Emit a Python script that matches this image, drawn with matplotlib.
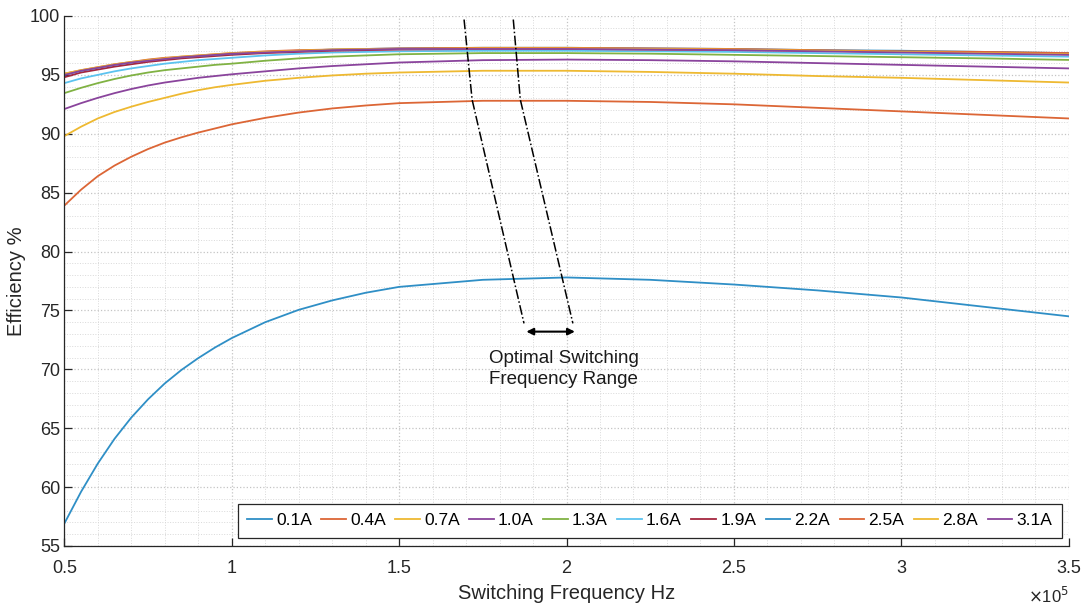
import matplotlib
matplotlib.use("Agg")
import matplotlib.pyplot as plt
from matplotlib.ticker import MultipleLocator, FuncFormatter

plt.rcParams['font.family'] = ['Liberation Sans', 'DejaVu Sans']

# switching frequency (Hz) and efficiency (%) per load current
freq = [0.5e5, 0.55e5, 0.6e5, 0.65e5, 0.7e5, 0.75e5, 0.8e5, 0.85e5, 0.9e5,
        0.95e5, 1.0e5, 1.1e5, 1.2e5, 1.3e5, 1.4e5, 1.5e5, 1.75e5, 2.0e5,
        2.25e5, 2.5e5, 2.75e5, 3.0e5, 3.25e5, 3.5e5]

eff_01 = [56.9, 59.6, 62.0, 64.1, 65.9, 67.45, 68.8, 69.95, 70.95, 71.85,
          72.65, 74.0, 75.05, 75.85, 76.5, 77.0, 77.6, 77.8, 77.6, 77.2,
          76.7, 76.1, 75.3, 74.5]
eff_04 = [83.9, 85.25, 86.4, 87.3, 88.05, 88.7, 89.25, 89.7, 90.1, 90.45,
          90.8, 91.35, 91.8, 92.15, 92.4, 92.6, 92.8, 92.8, 92.7, 92.5, 92.2,
          91.9, 91.6, 91.3]
eff_07 = [89.8, 90.6, 91.3, 91.85, 92.3, 92.7, 93.05, 93.4, 93.7, 93.95,
          94.15, 94.5, 94.75, 94.95, 95.1, 95.2, 95.35, 95.35, 95.25, 95.1,
          94.9, 94.75, 94.55, 94.35]
eff_10 = [92.1, 92.6, 93.05, 93.45, 93.8, 94.1, 94.35, 94.55, 94.75, 94.9,
          95.05, 95.3, 95.55, 95.75, 95.9, 96.05, 96.25, 96.3, 96.25, 96.15,
          96.0, 95.85, 95.7, 95.55]
eff_13 = [93.45, 93.9, 94.3, 94.65, 94.95, 95.2, 95.4, 95.55, 95.7, 95.85,
          95.95, 96.2, 96.4, 96.55, 96.65, 96.75, 96.85, 96.85, 96.8, 96.7,
          96.6, 96.5, 96.4, 96.27]
eff_16 = [94.3, 94.7, 95.0, 95.3, 95.55, 95.75, 95.95, 96.1, 96.25, 96.35,
          96.45, 96.65, 96.8, 96.9, 96.95, 97.0, 97.05, 97.05, 97.0, 96.95,
          96.85, 96.75, 96.65, 96.55]
eff_19 = [94.8, 95.2, 95.45, 95.7, 95.9, 96.1, 96.25, 96.4, 96.5, 96.6, 96.7,
          96.85, 96.95, 97.05, 97.1, 97.15, 97.2, 97.2, 97.15, 97.1, 97.05,
          96.95, 96.9, 96.8]
eff_22 = [95.0, 95.35, 95.6, 95.85, 96.05, 96.25, 96.4, 96.5, 96.6, 96.7,
          96.8, 96.95, 97.05, 97.15, 97.2, 97.25, 97.3, 97.3, 97.25, 97.2,
          97.1, 97.05, 96.95, 96.85]
eff_25 = [95.1, 95.4, 95.65, 95.9, 96.1, 96.3, 96.45, 96.55, 96.65, 96.75,
          96.85, 97.0, 97.1, 97.15, 97.2, 97.25, 97.3, 97.3, 97.25, 97.2,
          97.1, 97.0, 96.95, 96.85]
eff_28 = [95.1, 95.4, 95.65, 95.9, 96.1, 96.25, 96.4, 96.55, 96.65, 96.75,
          96.85, 96.95, 97.05, 97.15, 97.2, 97.2, 97.25, 97.25, 97.2, 97.15,
          97.05, 96.95, 96.85, 96.75]
eff_31 = [95.0, 95.35, 95.6, 95.85, 96.05, 96.2, 96.35, 96.5, 96.6, 96.7,
          96.8, 96.9, 97.0, 97.1, 97.15, 97.2, 97.2, 97.2, 97.15, 97.1, 97.0,
          96.9, 96.8, 96.7]

currents = ['0.1A', '0.4A', '0.7A', '1.0A', '1.3A', '1.6A', '1.9A',
            '2.2A', '2.5A', '2.8A', '3.1A']
series = [eff_01, eff_04, eff_07, eff_10, eff_13, eff_16, eff_19,
          eff_22, eff_25, eff_28, eff_31]

# optimal range markers (frequency, efficiency) and the arrow below them
range_left = ([1.694e5, 1.718e5, 1.873e5], [99.7, 92.9, 73.9])
range_right = ([1.841e5, 1.862e5, 2.019e5], [99.7, 92.9, 73.9])
arrow_span = (1.88e5, 2.025e5)
arrow_y = 73.2

colors = ['#2F8FC6', '#DC6636', '#EEB931', '#8A449C', '#80B243', '#5CC3EF',
          '#A5263F']

fig = plt.figure(figsize=(10.88, 6.08), dpi=100)
ax = fig.add_axes([0.0591, 0.102, 0.9232, 0.8717])

for i, (lab, eff) in enumerate(zip(currents, series)):
    ax.plot(freq, eff, color=colors[i % len(colors)], lw=1.3, label=lab)

ax.plot(*range_left, color='black', ls='-.', lw=1.1)
ax.plot(*range_right, color='black', ls='-.', lw=1.1)
ax.annotate('', xy=(arrow_span[0], arrow_y), xytext=(arrow_span[1], arrow_y),
            arrowprops=dict(arrowstyle='<|-|>', color='black', lw=1.5,
                            mutation_scale=10, shrinkA=0, shrinkB=0))
ax.text(1.7685e5, 71.6, 'Optimal Switching\nFrequency Range', ha='left',
        va='top', fontsize=13.5, color='#1a1a1a', linespacing=1.3)

ax.set_xlim(0.5e5, 3.5e5)
ax.set_ylim(55, 100)
ax.xaxis.set_major_locator(MultipleLocator(0.5e5))
ax.xaxis.set_minor_locator(MultipleLocator(0.1e5))
ax.yaxis.set_major_locator(MultipleLocator(5))
ax.yaxis.set_minor_locator(MultipleLocator(1))
ax.xaxis.set_major_formatter(FuncFormatter(lambda v, _: f'{v / 1e5:g}'))

ax.grid(which='major', color='#c4c4c4', ls=':', lw=0.9)
ax.grid(which='minor', color='#d9d9d9', ls=':', lw=0.7)
ax.set_axisbelow(True)

for side in ['top', 'right']:
    ax.spines[side].set_visible(False)
for side in ['left', 'bottom']:
    ax.spines[side].set_color('#262626')
    ax.spines[side].set_linewidth(0.9)

ax.tick_params(which='major', direction='in', length=6, width=0.9,
               labelsize=13, colors='#262626')
ax.tick_params(axis='x', pad=10)
ax.tick_params(axis='y', pad=3)
ax.tick_params(which='minor', length=0)

ax.set_xlabel('Switching Frequency Hz', fontsize=14.5, color='#262626',
              labelpad=5)
ax.set_ylabel('Efficiency %', fontsize=14.5, color='#262626', labelpad=3)
ax.text(1.0, -0.094, r'$\times$10$^{5}$', transform=ax.transAxes, ha='right',
        va='center', fontsize=12, color='#262626')

leg = ax.legend(ncol=11, loc='lower right', bbox_to_anchor=(0.993, 0.015),
                borderaxespad=0, fontsize=12.5, handlelength=1.4,
                handletextpad=0.25, columnspacing=0.55, borderpad=0.55,
                fancybox=False, framealpha=1, edgecolor='#262626')
leg.get_frame().set_linewidth(0.9)

fig.savefig('out.png', dpi=100)
